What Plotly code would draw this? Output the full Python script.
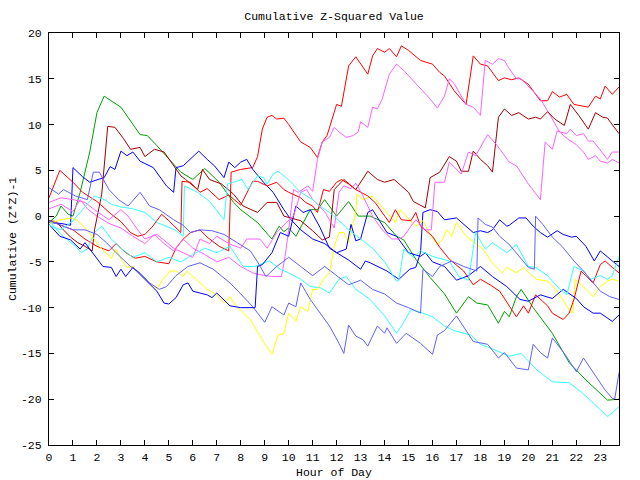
import plotly.graph_objects as go

# ---------------- data (hour of day, cumulative (Z*Z)-1) ----------------
red_a_h = [0,0.5,1,1.5,2,2.5,2.8,3.2,3.6,4,4.5,5,5.3,5.6,5.9,6.3,6.6,7.1,7.5,7.6,8,8.5,8.7,8.9,9.1,9.3,9.5,9.8,10,10.5,10.9,11.2,11.4,11.6,11.8,12,12.2,12.5,12.8,13.3,13.5,13.7,14,14.2,14.5,14.7,15,15.5,16,16.3,16.5,16.9,17.4,17.7,18,18.3,18.75,19,19.3,19.6,20,20.3,20.5,20.8,21,21.3,21.6,21.9,22.5,22.8,23,23.2,23.5,23.78]
red_a_v = [-0.5,-1,-1.5,-2.5,-3.3,-3.8,-3,-4,-4.6,-4.4,-5,-5.2,-3.5,-2.5,-1.8,-1.5,-2.3,-3.3,-3.8,4.8,5.1,5.3,6.5,9.5,10.8,11,10.6,10.7,10,8.1,7.5,6.4,8.1,8.8,10.5,12.2,12,16.4,17.4,15.5,17.5,18.3,17.9,18.3,17.4,18.6,18.1,17,16.6,15.7,15.3,13.7,12.2,17.5,16.6,16.4,14.8,15.1,14.9,15.1,14.4,13.3,12.6,12.6,13.6,13,13.3,12.2,11.9,13.1,12.8,14.2,13.3,14.1]

red_e_h = [0,0.45,1,1.4,2,2.6,3,3.4,3.7,4,4.3,4.7,5,5.5,5.55,5.9,6.3,6.6,7.1,7.5,8,8.5,8.7,9.1,9.5,9.8,10,10.5,10.7,11,11.2,11.45,11.7,12,12.2,12.5,12.8,13.3,13.6,14,14.2,14.45,14.7,15.1,15.3,15.5,15.7,16,16.3,16.7,17.3,17.7,18,18.4,18.8,19.2,19.5,19.8,20,20.3,20.8,21,21.45,21.7,21.9,22.2,22.5,22.7,23,23.2,23.5,23.78]
red_e_v = [2,5,3.7,2.6,1.6,0.2,-0.6,-1.8,-2.2,-2,-1.2,0.2,-0.5,-1.8,3.8,3.7,2.6,3,1.8,2.3,1.2,3.8,3.8,3.3,3.7,2.9,2.6,2,1.5,1.1,0.4,2.9,2.7,3.7,4,3.5,2.9,2.2,1.5,0,-0.7,0.7,-0.4,-0.5,0.4,-1.1,-1.5,-2.2,-3.4,-4.7,-6,-7.5,-6.9,-7.5,-8.2,-9.8,-11,-9.8,-10.6,-8.6,-9.8,-10.6,-11.3,-10.6,-9.1,-6,-6.8,-7.3,-5.3,-4.9,-5.6,-6.2]

dkred_h = [0,0.3,0.6,0.9,1.2,1.5,1.8,1.9,2.2,2.45,2.75,3.1,3.4,3.8,4,4.4,4.8,5.2,5.5,5.7,6.2,6.4,6.7,7.2,7.7,8.1,8.7,9.1,9.5,9.8,10.5,11,11.4,11.7,11.9,12.3,12.8,13.3,13.7,14,14.4,15,15.2,15.7,15.9,16.3,16.7,17,17.2,17.5,17.7,18,18.3,18.5,18.75,19,19.3,19.6,20,20.3,20.5,20.8,21.1,21.5,21.75,22.1,22.5,22.8,23.1,23.3,23.78]
dkred_v = [-0.5,-0.6,-1.5,-2.3,-2.9,-3.3,-3.8,-1.5,2.4,9.8,9.7,8.5,7.3,7.5,6.5,7.3,7,5.5,4.4,4,2.9,5.1,4,3.5,2.4,1.1,0.4,1.5,1.5,0,-0.5,-1.6,-2.6,-2.3,2.9,4,2.9,4.9,4,3.7,4,2.6,1.6,0.9,4.2,4.8,6.5,6,4.9,4.9,7.1,6.2,5.5,4.8,10.8,11.7,11,11.3,10.6,10.8,10.6,11.4,10.6,9.9,12.2,11,9.5,11.3,10.8,10.7,9]

green_h = [0,0.3,0.5,0.8,1,1.3,1.7,2,2.3,3,3.8,4.1,4.5,5.5,6,6.5,7.1,7.7,8,8.7,9.3,9.6,9.8,10,10.3,10.9,11.2,11.5,12,12.5,12.9,13.4,14,14.5,14.8,15.3,15.9,16.5,17,17.5,17.85,18.3,18.75,19,19.2,19.5,19.7,20.2,21,21.7,22.4,23.3,23.78]
green_v = [-0.7,0,1.1,0.2,0,2.6,7,11.3,13.1,11.9,8.9,8.8,7.7,4.8,4,5.2,3.7,1.5,0.7,-0.7,-2.5,-1.1,-1.7,-1.3,-2.2,0.7,0.7,1.8,0,1.6,0,0,-0.7,-2.2,-2.6,-4.7,-6.7,-8.5,-10.6,-8.8,-9.5,-9.7,-11.7,-10.4,-11,-8.8,-8,-10,-12.8,-16,-17.9,-20.1,-20]

mag_c_h = [0,0.5,1,1.3,1.6,2,2.5,3,3.5,4,4.4,4.8,5.2,5.6,6,6.5,7,7.5,8,8.5,8.8,9.3,9.7,9.85,10,10.1,10.2,10.4,10.8,11,11.2,11.4,11.7,11.9,12.1,12.4,12.7,12.9,13,13.3,13.5,13.7,13.9,14.2,14.5,14.8,15.1,15.4,15.9,16.2,16.5,16.7,16.9,17.4,17.7,18,18.2,18.5,18.75,19,19.2,19.5,19.7,20,20.5,21,21.3,21.6,22,22.3,22.5,22.8,23,23.3,23.5,23.78]
mag_c_v = [0.8,1.3,0.5,1.8,0.8,0,-0.8,-1.3,-2.2,-3,-2,-3,-3.8,-2.5,-3.5,-4.2,-5,-4.5,-5.5,-6.2,-6.4,-6.6,-6.6,-4.4,-1.5,1.1,2.9,2.6,3.3,2.7,6.2,8.1,8.6,9.7,9.2,8.6,8.8,9.2,10.3,9.7,11.9,11.7,12.8,15.5,16.6,15.9,15,14.2,12.8,11.8,13.1,15,14.5,12.2,11.9,11,17,16.6,17.2,17,16.1,15,15,14.2,12.8,10.6,9.2,8.5,7.8,7,6.2,6.6,6,5.8,6.2,5.8]

mag_d_h = [0,0.5,1,1.5,1.9,2.5,3,3.3,3.7,4,4.5,5,5.25,5.6,6,6.3,6.7,7,7.5,8,8.25,8.8,9.1,9.5,9.9,10.2,10.5,10.75,11,11.5,11.9,12.1,12.3,12.6,12.8,13.1,13.5,13.9,14.3,14.6,14.8,15.1,15.3,15.7,15.95,16.1,16.5,16.7,17.2,17.5,17.8,18.3,18.7,19.2,19.5,20,20.5,20.7,21,21.2,21.6,21.75,22,22.3,22.5,22.7,23.3,23.5,23.78]
mag_d_v = [1.5,2,1.8,1.5,0.7,-0.4,0.7,0,-1.5,-2.5,-2,-3,-3.6,-4,-4.5,-2.5,-3,-2.2,-3,-3.5,-2.5,-2.5,-3.5,-1.8,-0.7,0,2.6,2.9,1.8,0.5,-1.3,2.6,3.3,3,3.6,2.2,0,-1.5,-2.5,-2.5,-2.2,-1.1,-0.4,-1.5,-1.5,3.7,3.7,5.9,4.6,7,6.6,8.9,7.7,5.9,5.5,3.5,1.8,8.1,7.3,9.3,9,9.5,8.8,9,8.2,8.2,6.2,7,7]

yellow_h = [0,0.5,0.95,1.2,1.6,1.9,2.1,2.6,2.8,3,3.25,3.5,3.9,4.2,4.5,4.75,5.05,5.3,5.6,5.75,6,6.3,6.6,7,7.3,7.55,7.8,8.4,8.9,9.3,9.55,9.8,10,10.3,10.5,10.8,11,11.2,11.45,11.7,11.9,12.1,12.3,12.5,12.6,12.8,12.85,13.1,13.5,14,14.2,14.45,14.65,14.9,15.3,15.6,15.9,16.2,16.4,16.6,16.8,17,17.4,17.7,18.1,18.5,18.9,19.1,19.5,19.8,20.1,20.35,20.8,21.2,21.7,21.85,21.95,22.4,22.7,23,23.3,23.5,23.78]
yellow_v = [-0.8,-0.4,-0.2,-0.5,-1.5,-2.5,-3.3,-4.6,-3.6,-4.7,-5.6,-5.5,-6.6,-7.3,-8,-6.9,-6,-6,-6.6,-6,-6.6,-7.3,-8,-8.6,-9.5,-8.8,-9.8,-11.3,-13.5,-15.1,-13,-12.8,-10.6,-11.5,-9.9,-10.4,-8,-8,-6.9,-6.2,-3.3,-1.8,-1.8,-2.9,-1.8,0.4,2.4,1.8,2.2,0.7,0,-0.7,0.7,0,-1.1,-0.5,-2,-3.1,-2.6,-1.5,-2.2,-0.7,-2.2,-2.8,-3.6,-5.1,-6.2,-5.6,-6.2,-5.6,-6.4,-6.9,-7.1,-8.2,-10.2,-10.6,-6.9,-8,-8.8,-7.7,-7.1,-6.9,-7.1]

blue_1_h = [0,0.5,0.9,1,1.4,1.7,2.05,2.3,2.55,2.75,3,3.25,3.5,3.8,4.35,4.6,4.9,5.2,5.3,5.6,5.9,6.25,6.6,6.9,7.3,7.5,7.75,8,8.25,8.5,8.95,9.35,9.8,10.1,10.5,11,11.5,12,12.5,13,13.2,13.4,14.1,14.6,15.05,15.3,15.5,15.6,15.9,16.2,16.5,17,17.7,18,18.3,18.5,18.8,19.1,19.2,19.6,19.9,20.2,20.5,20.8,21.2,21.45,21.8,22,22.4,22.75,23,23.2,23.5,23.78]
blue_1_v = [-0.7,-0.8,-1,5.3,4.3,3.7,4,4.2,5.4,5.1,7.1,6.6,7,6,5.3,4.4,3.3,2.6,5.3,5.5,6.2,7.1,6.2,5.5,4.2,5.9,5.3,5.9,6.2,5.1,3.7,2.6,0.7,-0.4,-1.5,-2.5,-3,-4,-4.8,-5.8,-4.9,-5.1,-6,-6.9,-5.8,-5.6,-4,0.4,0.7,0.5,-0.4,-0.2,-1.8,-1.6,-1.8,-1.5,-0.4,-1.1,-1,-0.2,-0.2,-1.1,-1.8,-2.3,-1.6,-2,-2.3,-2.2,-3.3,-4.9,-3.8,-4.2,-4.9,-5.5]

blue_2_h = [0,0.45,0.9,1.3,1.5,2,2.25,2.6,2.8,3,3.2,3.5,4.1,4.5,4.8,5,5.3,5.6,5.8,6,6.6,6.8,7,7.2,7.55,8,8.6,8.7,8.9,9.3,9.65,10,10.3,10.6,10.9,11.3,11.7,12,12.4,12.6,12.8,13,13.3,13.5,14.1,14.5,15,15.5,15.7,16,16.5,17,17.5,18,18.5,19.1,19.65,20,20.5,21,21.45,22,22.3,22.7,23,23.5,23.78]
blue_2_v = [-0.9,-2.2,-2.6,-3.6,-2.9,-4.7,-5.5,-5.6,-6.6,-5.8,-6.6,-5.6,-7.1,-8.2,-9.5,-9.6,-8.9,-7.5,-7.3,-8.2,-8.6,-8.9,-8.4,-8.9,-9.8,-10,-10,-5.5,-5.3,-4,-1.8,-2.2,1.1,0.4,0.7,-1.2,-3.5,-4,-3.6,-0.9,-2.7,-2.5,0.4,0.7,-1.8,-2.2,-4,-4.4,-4,-5,-5.5,-7,-6.5,-5.5,-6.6,-7.7,-9.1,-9.3,-8.6,-9,-8,-9,-9.9,-10.6,-10.6,-11.5,-10.8]

ltblue_1_h = [0,0.5,1,1.5,2,2.4,2.8,3.4,3.8,4.2,4.6,4.9,5.3,5.8,6.3,6.85,7.4,7.55,8,8.5,9,9.3,9.8,10,10.3,10.5,10.9,11.3,11.7,12.1,12.3,12.5,12.8,13.1,13.3,13.7,14,14.1,14.5,14.9,15.5,16,16.2,16.5,17,17.7,18.3,18.75,19,19.5,20,20.2,20.5,20.8,21,21.5,22,22.3,22.8,23.2,23.5,23.6,23.78]
ltblue_1_v = [-0.5,-1,-1.5,-1.5,-2,-2.9,-4,-5.5,-6.2,-7.3,-8,-7.7,-6.5,-5.5,-5.1,-5.8,-6.9,-7.3,-8.5,-9.9,-11.6,-9.9,-10.8,-9.5,-9.9,-7.3,-9.1,-10.6,-12,-13.9,-15,-11.9,-13.1,-13.5,-14.2,-12,-12.8,-12.2,-13.9,-12.8,-13.9,-15.1,-13,-12.5,-10.9,-13.7,-14,-15.5,-14.9,-16.6,-16.8,-14,-14.9,-15.5,-13.3,-15,-17,-15.5,-17.5,-19,-19.9,-20,-17.1]

ltblue_2_h = [0,0.4,0.6,1.1,1.6,1.85,2.1,2.5,2.9,3.3,3.8,4.2,4.6,5.2,5.6,5.9,6.3,6.8,7.3,8,8.4,8.7,9.05,9.5,10,10.5,11,11.5,12,12.5,13,13.5,14,14.5,15,15.5,15.6,16,16.3,16.8,17.3,17.85,17.9,18.2,18.5,18.8,19.2,19.65,20,20.25,20.3,20.6,21,21.4,21.9,22.3,22.7,23,23.4,23.78]
ltblue_2_v = [3.1,2.4,2.9,2.2,1.8,4.8,4.8,2.9,1.8,1.1,2.6,1.1,0.7,-0.4,-1,-1.8,-1.5,-1.6,-2,-3.1,-3.8,-5,-6.6,-5.5,-4.5,-5.5,-6.5,-5.5,-6.5,-7.5,-7,-8,-8.5,-9.5,-10,-10.6,-5.8,-6.6,-5.5,-4.9,-5.5,-6,-0.2,-0.9,-1.2,-2.2,-3.1,-4.5,-5.6,-5.8,0,-0.9,-2.3,-3.3,-4.9,-6,-7.3,-8.2,-8.8,-9.1]

cyan_1_h = [0,0.5,1.1,1.35,1.6,1.9,2.2,2.6,3,3.5,4,4.5,5,5.5,6,6.5,7,7.55,8.1,8.6,9.2,9.65,10,10.5,10.9,11.3,11.7,12.1,12.4,12.8,13.4,14,14.5,14.8,15.1,15.5,16,16.5,16.9,17.6,18,18.5,19.2,19.7,20.35,21,21.7,22.2,22.7,23.3,23.5,23.78]
cyan_1_v = [-0.5,-2,-3.3,-4,-3.6,-1.8,-1.1,-2.5,-3.5,-4.5,-4,-5,-4.5,-5,-4.2,-3.5,-4,-3.3,-5.5,-5.5,-4.9,-5.8,-6.2,-6.9,-7.7,-7.8,-8.4,-6.9,-6.6,-8,-9.1,-10.9,-12.8,-11.6,-10.2,-10.5,-11,-12,-12.5,-13,-14,-14.5,-15.3,-15,-16.8,-18.1,-18.2,-19.2,-20.4,-21.9,-21.5,-20.8]

cyan_2_h = [0,0.5,1,1.5,1.9,2.3,2.6,3,3.5,4,4.5,5.25,5.6,5.65,6.2,6.7,7,7.3,7.45,8.05,8.3,8.7,8.95,9.1,9.35,9.55,9.8,10.1,10.5,11,11.3,11.7,12.1,12.5,13,13.5,14,14.5,14.6,14.8,15.2,15.5,16,16.7,17.1,17.5,17.7,17.8,18.2,18.5,19.1,19.5,20,20.3,20.8,21.2,21.6,21.9,22.3,22.6,23,23.3,23.5,23.78]
cyan_2_v = [-1,-1.5,-0.5,1,2.2,1.8,1.3,1,0.8,0.4,-0.7,-1.5,-2.2,3.3,2.6,1.6,0.6,-0.4,3.5,4,2.9,4.4,4.2,3.5,4.6,4.9,4.4,3.7,2.6,1.8,1.1,0.4,-0.5,-1.5,-2.5,-3.5,-5,-7.1,-7,-3.6,-4.5,-3.8,-4.4,-4.9,-6.6,-7,-3.5,-1.8,-3.6,-2.9,-4,-3.1,-5.5,-5.6,-6.5,-7.7,-8.6,-5.5,-6,-6.9,-6.5,-6.9,-6.5,-4.4]

x_ticks = list(range(0, 24))
y_ticks = [-25, -20, -15, -10, -5, 0, 5, 10, 15, 20]

RED = "#ff0000"
DKRED = "#a00000"
GREEN = "#00a000"
BLUE = "#0000ff"
LTBLUE = "#6060ff"
CYAN = "#30ffff"
MAGENTA = "#ff60ff"
YELLOW = "#ffff00"

series = [
    (red_a_h, red_a_v, RED),
    (green_h, green_v, GREEN),
    (blue_1_h, blue_1_v, BLUE),
    (mag_c_h, mag_c_v, MAGENTA),
    (cyan_1_h, cyan_1_v, CYAN),
    (dkred_h, dkred_v, DKRED),
    (yellow_h, yellow_v, YELLOW),
    (ltblue_1_h, ltblue_1_v, LTBLUE),
    (red_e_h, red_e_v, RED),
    (blue_2_h, blue_2_v, BLUE),
    (mag_d_h, mag_d_v, MAGENTA),
    (cyan_2_h, cyan_2_v, CYAN),
    (ltblue_2_h, ltblue_2_v, LTBLUE),
]

FONT = "Liberation Mono"

fig = go.Figure()
for h, v, c in series:
    fig.add_trace(go.Scatter(x=h, y=v, mode="lines",
                             line=dict(color=c, width=1),
                             showlegend=False, hoverinfo="skip"))

axis_common = dict(
    showline=True, linecolor="black", linewidth=1, mirror="ticks",
    ticks="inside", ticklen=5, tickcolor="black", tickwidth=1,
    showgrid=False, zeroline=False,
    tickfont=dict(family=FONT, size=11.5, color="black"),
)

fig.update_layout(
    width=640, height=480,
    margin=dict(l=49, r=21, t=33, b=35),
    paper_bgcolor="white", plot_bgcolor="white",
    title=dict(text="Cumulative Z-Squared Value", x=0.5, xref="paper",
               y=1 - 16 / 480, yref="container", yanchor="middle",
               xanchor="center",
               font=dict(family=FONT, size=11.5, color="black")),
    xaxis=dict(range=[0, 23.78], tickmode="array", tickvals=x_ticks,
               ticktext=[str(t) for t in x_ticks], ticklabelstandoff=1,
               **axis_common),
    yaxis=dict(range=[-25, 20], tickmode="array", tickvals=y_ticks,
               ticktext=[str(t) for t in y_ticks], ticklabelstandoff=4,
               **axis_common),
    annotations=[
        dict(text="Hour of Day", x=0.5, y=0, xref="paper", yref="paper",
             xanchor="center", yanchor="middle", yshift=-27, showarrow=False,
             font=dict(family=FONT, size=11.5, color="black")),
        dict(text="Cumulative (Z*Z)-1", x=0, y=0.5, xref="paper", yref="paper",
             xanchor="center", yanchor="middle", xshift=-37, textangle=-90,
             showarrow=False,
             font=dict(family=FONT, size=11.5, color="black")),
    ],
)

fig.write_html("out.html")
